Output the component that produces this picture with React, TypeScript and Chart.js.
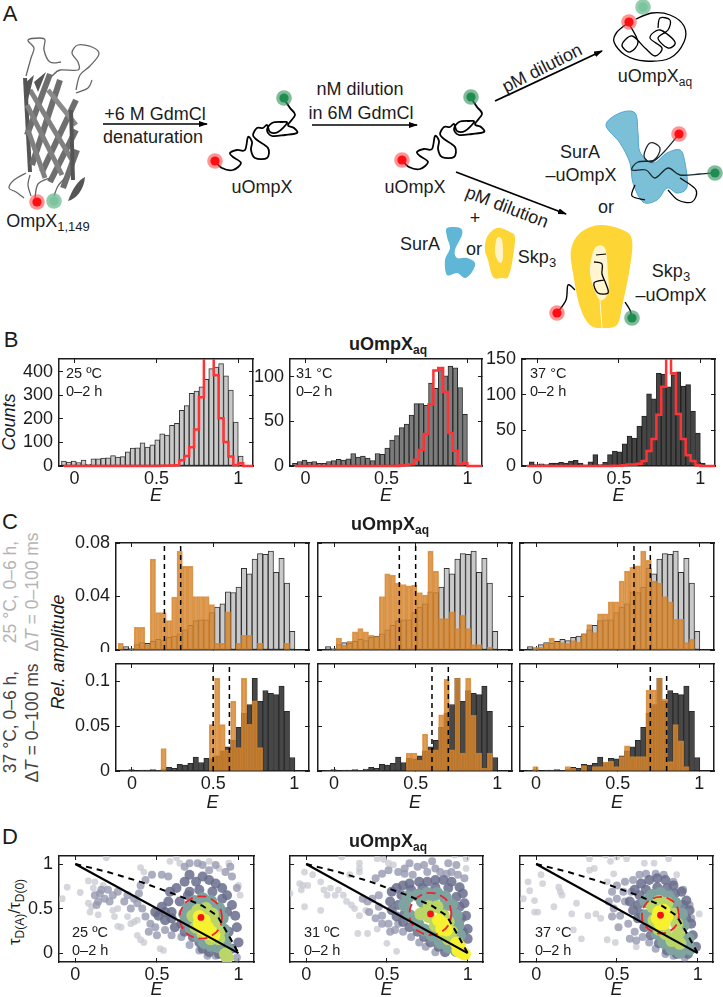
import React, { useEffect, useRef } from 'react';
import { Chart, registerables } from 'chart.js';

Chart.register(...registerables);

// bin centres
const binsB = [-0.065, -0.035, -0.005, 0.025, 0.055, 0.085, 0.115, 0.145, 0.175, 0.205, 0.235, 0.265, 0.295, 0.325, 0.355, 0.385, 0.415, 0.445, 0.475, 0.505, 0.535, 0.565, 0.595, 0.625, 0.655, 0.685, 0.715, 0.745, 0.775, 0.805, 0.835, 0.865, 0.895, 0.925, 0.955, 0.985, 1.015, 1.045, 1.075, 1.105];
const binsC = [-0.069, -0.036, -0.003, 0.03, 0.063, 0.096, 0.129, 0.162, 0.195, 0.228, 0.261, 0.294, 0.327, 0.36, 0.393, 0.426, 0.459, 0.492, 0.525, 0.558, 0.591, 0.624, 0.657, 0.69, 0.723, 0.756, 0.789, 0.822, 0.855, 0.888, 0.921, 0.954, 0.987];

// panel B counts
const counts25 = [21, 17, 21, 15, 25, 7, 30, 30, 34, 35, 44, 38, 40, 60, 76, 77, 98, 80, 90, 111, 137, 132, 173, 181, 237, 257, 309, 319, 337, 369, 414, 421, 435, 383, 323, 187, 42];
const counts31 = [3, 5, 6.5, 4.5, 5, 3, 3, 5, 6, 7.5, 6.5, 8, 14, 10, 11, 9, 6, 14, 13, 20, 29, 34, 43, 47, 57, 70, 70, 68, 93, 87, 108, 101, 112, 110, 88, 58];
const counts37 = [0.5, 6, 2, 3, 2, 4, 4, 5, 4, 7, 8, 4, 1.5, 6, 16, 2, 5, 16, 21, 20, 31, 42, 39, 56, 70, 101, 94, 130, 129, 111, 128, 132, 112, 114, 77, 46, 4];
const fit25 = [0, 0, 0, 0, 0, 0, 0, 0, 0, 0, 0, 0, 0, 0, 0, 0, 0, 0, 0, 0, 1, 1, 2, 3, 24, 42, 80, 155, 292, 470, 470, 386, 203, 102, 40, 4, 12, 0, 0, 0];
const fit31 = [0, 0, 0, 0, 0, 0, 0, 0, 0, 0, 0, 0, 0, 0, 0, 0, 0, 0, 0, 0, 0, 0, 0.5, 1, 2, 7, 18, 36, 69, 107, 110, 83, 37, 17, 2, 3, 0, 0, 0, 0];
const fit37 = [0, 0, 0, 0, 0, 0, 0, 0, 0, 0, 0, 0, 0, 0, 0, 0, 0, 0, 0.5, 0.5, 1, 2, 2, 3, 7, 21, 38, 72, 111, 155, 130, 73, 38, 15, 7, 1, 0, 0, 0, 0];

// panel C relative amplitudes
const grey25 = [0, 0.0025, 0.001, 0.004, 0.0055, 0.005, 0.0065, 0.008, 0.007, 0.0095, 0.0105, 0.012, 0.015, 0.0185, 0.022, 0.0225, 0.0225, 0.028, 0.032, 0.0345, 0.0435, 0.043, 0.047, 0.061, 0.057, 0.068, 0.072, 0.0715, 0.074, 0.058, 0.0685, 0.05, 0.014];
const dark37 = [0, 0.0005, 0.0015, 0, 0.001, 0.001, 0.0015, 0.0005, 0.002, 0.004, 0.003, 0.0075, 0.0065, 0.0085, 0.0155, 0.0095, 0.014, 0.0135, 0.017, 0.0225, 0.027, 0.034, 0.0485, 0.0645, 0.074, 0.103, 0.0775, 0.0895, 0.0865, 0.085, 0.0945, 0.0665, 0.015];
const orange25a = [0.005, 0, 0, 0.017, 0.017, 0.004, 0.068, 0.028, 0.028, 0.022, 0.0395, 0.074, 0.0625, 0.0625, 0.04, 0.04, 0.04, 0.034, 0.005, 0.005, 0.0285, 0, 0.005, 0.011, 0.011, 0, 0.005, 0, 0, 0, 0, 0.005, 0];
const orange25b = [0, 0, 0, 0.009, 0.0035, 0.0065, 0.0135, 0.016, 0.0135, 0.011, 0.01, 0.04, 0.057, 0.056, 0.05, 0.049, 0.048, 0.0485, 0.043, 0.041, 0.074, 0.059, 0.0235, 0.0235, 0.0285, 0.016, 0.026, 0.016, 0.004, 0.004, 0, 0.002, 0];
const orange25c = [0, 0, 0.002, 0.002, 0.005, 0.009, 0.006, 0.0055, 0.005, 0.007, 0.006, 0.012, 0.019, 0.013, 0.027, 0.027, 0.036, 0.036, 0.0515, 0.059, 0.062, 0.063, 0.074, 0.067, 0.0515, 0.05, 0.04, 0.036, 0.023, 0.023, 0.0055, 0.008, 0];
const orange37a = [0, 0, 0, 0, 0, 0, 0, 0, 0.025, 0, 0, 0, 0, 0, 0, 0, 0, 0.0515, 0.103, 0.0515, 0.0235, 0.0775, 0.026, 0.103, 0.052, 0.078, 0.026, 0, 0, 0, 0, 0, 0];
const orange37b = [0, 0, 0, 0, 0, 0, 0, 0, 0, 0, 0, 0, 0, 0, 0, 0, 0.02, 0.02, 0.012, 0.041, 0.0235, 0.0235, 0.0625, 0.102, 0.0235, 0.103, 0.02, 0.103, 0.062, 0.02, 0.003, 0.02, 0];
const orange37c = [0, 0, 0.005, 0, 0, 0, 0, 0, 0.005, 0.003, 0, 0.006, 0, 0.005, 0.005, 0.01, 0.011, 0.005, 0.016, 0.028, 0.016, 0.016, 0.016, 0.09, 0.09, 0.103, 0.08, 0.0105, 0.0515, 0.0335, 0.005, 0, 0];

// panel D, lifetime vs E, one list per density level
const d25 = [
  [[-0.08, 0.61], [-0.05, 0.74], [0.03, 0.68], [0.08, 0.81], [0.12, 0.8], [0.19, 1.07], [0.4, 0.96], [0.42, 0.91], [0.62, 1.07], [0.64, 1.01], [0.58, 1.03], [0.54, 0.03], [0.52, 0.05], [0.42, 0.12], [0.4, 0.15], [0.38, 0.2], [0.1, 0.52], [0.08, 0.56], [0.09, 0.46], [0.14, 0.43], [0.26, 0.3], [0.28, 0.29], [0.38, 0.37], [0.34, 0.33], [0.36, 0.35], [0.32, 0.41], [0.24, 0.41], [0.23, 0.48], [0.26, 0.5], [0.82, 1.03], [0.94, 1.01], [0.88, 0.95], [1.0, 0.76], [1.01, 0.65], [0.11, 0.73], [0.17, 0.76]],
  [[0.12, 0.65], [0.14, 0.58], [0.16, 0.71], [0.2, 0.71], [0.13, 0.54], [0.15, 0.67], [0.23, 0.65], [0.3, 0.58], [0.32, 0.65], [0.36, 0.61], [0.39, 0.67], [0.4, 0.76], [0.43, 0.82], [0.47, 0.88], [0.53, 0.88], [0.57, 0.86], [0.67, 0.97], [0.7, 1.01], [0.75, 1.01], [0.78, 0.99], [0.82, 0.93], [0.86, 0.99], [0.92, 0.91], [0.95, 0.97], [0.96, 0.86], [0.99, 0.73], [0.41, 0.5], [0.43, 0.41], [0.46, 0.33], [0.49, 0.29], [0.45, 0.24], [0.5, 0.2], [0.55, 0.26], [0.59, 0.2], [0.65, 0.18], [0.7, 0.09], [0.76, 0.03], [0.81, -0.03], [0.86, -0.03], [0.99, -0.05], [0.34, 0.5], [0.38, 0.56], [0.26, 0.69], [0.21, 0.58], [0.18, 0.61]],
  [[0.49, 0.46], [0.53, 0.52], [0.57, 0.58], [0.58, 0.69], [0.62, 0.73], [0.67, 0.8], [0.7, 0.88], [0.74, 0.8], [0.78, 0.86], [0.82, 0.82], [0.86, 0.78], [0.9, 0.73], [0.93, 0.65], [0.96, 0.54], [0.98, 0.42], [0.99, 0.29], [1, 0.12], [0.96, 0.05], [0.93, 0.01], [0.88, -0.01], [0.82, 0.01], [0.78, 0.05], [0.76, 0.12], [0.72, 0.18], [0.67, 0.24], [0.61, 0.29], [0.55, 0.37], [0.51, 0.42], [0.59, 0.46], [0.64, 0.58], [0.7, 0.69], [0.76, 0.71], [0.84, 0.69], [0.9, 0.61], [0.93, 0.46], [0.94, 0.24], [0.59, 0.39], [0.55, 0.46], [0.65, 0.33], [0.69, 0.65]],
  [[0.69, 0.5], [0.73, 0.58], [0.78, 0.61], [0.83, 0.58], [0.88, 0.5], [0.9, 0.39], [0.91, 0.26], [0.92, 0.14], [0.93, 0.05], [0.88, 0.07], [0.83, 0.09], [0.79, 0.12], [0.75, 0.2], [0.71, 0.27], [0.68, 0.37], [0.67, 0.44]],
  [[0.72, 0.42], [0.75, 0.48], [0.8, 0.5], [0.84, 0.44], [0.86, 0.35], [0.88, 0.24], [0.88, 0.16], [0.83, 0.16], [0.78, 0.22], [0.74, 0.29], [0.92, -0.01], [0.93, -0.05]],
  [[0.76, 0.33], [0.79, 0.37], [0.81, 0.29], [0.78, 0.27], [0.83, 0.24], [0.85, 0.2], [0.76, 0.41], [0.81, 0.22]],
];
const d31 = [
  [[-0.01, 0.91], [-0.02, 0.76], [-0.04, 0.78], [0.01, 0.76], [0.04, 0.88], [-0.1, 0.67], [-0.01, 0.52], [0.09, 0.48], [0.13, 0.65], [0.15, 0.73], [0.11, 0.71], [0.18, 0.65], [0.2, 0.71], [0.23, 0.65], [0.22, 1.08], [0.33, 1.01], [0.33, 0.95], [0.33, 0.91], [0.27, 0.88], [0.25, 0.58], [0.28, 0.54], [0.3, 0.5], [0.33, 0.42], [0.37, 0.48], [0.44, 0.27], [0.38, 0.22], [0.32, 0.22], [0.5, 0.11], [0.56, 0.02], [0.44, 1.06], [0.48, 1.05], [0.51, 1.01], [0.54, 0.99], [0.92, 1.1], [0.99, 1.06], [0.99, 0.95], [0.09, 0.8], [-0.03, 0.71]],
  [[0.43, 0.84], [0.47, 0.89], [0.51, 0.93], [0.57, 0.91], [0.61, 0.95], [0.64, 1.01], [0.69, 0.97], [0.73, 0.99], [0.78, 1.03], [0.8, 0.95], [0.88, 1.01], [0.93, 0.99], [0.9, 0.91], [0.94, 0.88], [0.35, 0.61], [0.38, 0.58], [0.41, 0.61], [0.45, 0.65], [0.39, 0.46], [0.43, 0.39], [0.47, 0.42], [0.51, 0.33], [0.55, 0.26], [0.6, 0.24], [0.65, 0.18], [0.7, 0.12], [0.74, 0.07], [0.8, 0.01], [0.61, 0.89], [0.66, 0.88], [0.75, 0.91], [0.83, 0.91], [0.87, 0.89], [0.98, 0.84], [0.47, 0.33], [0.52, 0.24], [0.57, 0.33], [0.45, 0.52]],
  [[0.53, 0.69], [0.56, 0.73], [0.6, 0.76], [0.64, 0.78], [0.7, 0.8], [0.75, 0.8], [0.8, 0.82], [0.85, 0.82], [0.9, 0.8], [0.95, 0.74], [0.97, 0.67], [0.98, 0.56], [0.99, 0.42], [1, 0.27], [1, 0.16], [0.52, 0.58], [0.53, 0.48], [0.56, 0.41], [0.6, 0.35], [0.64, 0.29], [0.69, 0.24], [0.73, 0.18], [0.77, 0.12], [0.82, 0.07], [0.86, 0.01], [0.59, 0.65], [0.65, 0.71], [0.72, 0.73], [0.8, 0.74], [0.88, 0.73], [0.93, 0.63], [0.95, 0.52], [0.96, 0.39], [0.97, 0.24], [0.57, 0.54], [0.61, 0.44]],
  [[0.63, 0.63], [0.69, 0.65], [0.75, 0.67], [0.81, 0.67], [0.86, 0.63], [0.9, 0.54], [0.93, 0.42], [0.94, 0.31], [0.95, 0.2], [0.61, 0.54], [0.64, 0.42], [0.69, 0.33], [0.73, 0.26], [0.78, 0.2], [0.83, 0.12], [0.88, 0.07], [0.93, 0.03], [0.72, 0.58], [0.78, 0.58], [0.85, 0.52]],
  [[0.76, 0.52], [0.81, 0.52], [0.85, 0.42], [0.88, 0.35], [0.9, 0.24], [0.76, 0.41], [0.8, 0.31], [0.84, 0.22], [0.88, 0.16], [0.93, 0.12], [0.71, 0.44]],
  [[0.82, 0.37], [0.85, 0.33], [0.84, 0.27], [0.87, 0.26], [0.93, 0.11], [0.95, 0.07], [0.96, 0.01], [0.98, -0.01], [0.94, 0.03]],
];
const d37 = [
  [[-0.08, 0.61], [-0.05, 0.8], [-0.04, 0.7], [-0.01, 0.59], [-0.01, 0.46], [0.01, 0.46], [0.04, 0.78], [0.03, 0.88], [0.11, 0.52], [0.14, 0.74], [0.15, 0.69], [0.16, 0.65], [0.22, 0.44], [0.25, 0.56], [0.23, 0.26], [0.28, 0.16], [0.33, 1.06], [0.33, 0.93], [0.36, 0.95], [0.43, 1.1], [0.46, 1.03], [0.5, 1.08], [0.56, 1.06], [0.67, 1.01], [0.73, 1.01], [0.82, 1.06], [0.87, 0.88], [1.01, 0.44], [0.49, 0.12], [0.62, 0.07], [0.44, 0.15], [0.44, 0.8], [0.48, 0.89], [0.32, 0.42], [0.37, 0.44], [0.4, 0.39]],
  [[0.47, 0.69], [0.5, 0.76], [0.55, 0.8], [0.6, 0.82], [0.64, 0.88], [0.68, 0.89], [0.74, 0.89], [0.79, 0.88], [0.45, 0.58], [0.48, 0.5], [0.47, 0.41], [0.52, 0.42], [0.57, 0.33], [0.51, 0.29], [0.61, 0.24], [0.66, 0.18], [0.7, 0.12], [0.74, 0.05], [0.8, -0.01], [0.85, -0.03], [0.92, -0.05], [0.96, 0.39], [0.95, 0.54], [0.58, 0.16], [0.62, 0.14], [0.59, 0.69], [0.5, 0.61], [0.55, 0.58], [0.54, 0.69], [0.85, 0.8], [0.91, 0.71]],
  [[0.61, 0.71], [0.65, 0.78], [0.7, 0.82], [0.75, 0.84], [0.8, 0.82], [0.85, 0.76], [0.9, 0.69], [0.93, 0.59], [0.95, 0.48], [0.96, 0.33], [0.97, 0.2], [0.99, 0.07], [0.58, 0.58], [0.6, 0.48], [0.63, 0.39], [0.67, 0.29], [0.71, 0.2], [0.76, 0.11], [0.81, 0.03], [0.87, -0.01], [0.94, -0.01], [0.64, 0.65], [0.68, 0.71], [0.75, 0.74], [0.81, 0.73], [0.86, 0.67], [0.91, 0.54], [0.93, 0.39], [0.63, 0.54], [0.65, 0.44]],
  [[0.68, 0.58], [0.72, 0.65], [0.77, 0.67], [0.82, 0.63], [0.86, 0.56], [0.9, 0.44], [0.91, 0.31], [0.94, 0.16], [0.95, 0.05], [0.68, 0.42], [0.71, 0.31], [0.75, 0.22], [0.79, 0.12], [0.84, 0.05], [0.89, 0.01]],
  [[0.72, 0.52], [0.76, 0.58], [0.81, 0.56], [0.85, 0.44], [0.87, 0.33], [0.88, 0.22], [0.89, 0.11], [0.73, 0.37], [0.76, 0.27], [0.8, 0.22], [0.84, 0.14]],
  [[0.76, 0.46], [0.79, 0.48], [0.81, 0.41], [0.79, 0.33], [0.77, 0.33], [0.75, 0.39], [0.78, 0.41]],
];
const densityColors = ['rgba(200,201,210,0.75)', 'rgba(150,153,176,0.8)', 'rgba(104,109,140,0.85)', '#7fa39f', '#bad667', '#f6f230'];
const densityRadius = [3.4, 4, 5, 6.5, 6.5, 6.5];

// model lines in D
const staticX = [0, 1];
const staticY = [1, 0];
const dynX = [0, 0.2, 0.4, 0.64, 0.78, 0.87, 0.93, 1];
const dynY = [1, 0.91, 0.8, 0.64, 0.53, 0.42, 0.23, 0];
const ringX = [0.9, 0.883, 0.835, 0.77, 0.705, 0.657, 0.64, 0.657, 0.705, 0.77, 0.835, 0.883, 0.9];
const ringX37 = [0.885, 0.87, 0.828, 0.77, 0.713, 0.67, 0.655, 0.67, 0.713, 0.77, 0.828, 0.87, 0.885];
const ringY25 = [0.4, 0.519, 0.605, 0.637, 0.605, 0.519, 0.4, 0.281, 0.195, 0.163, 0.195, 0.281, 0.4];
const ringY31 = [0.44, 0.558, 0.644, 0.675, 0.644, 0.558, 0.44, 0.322, 0.236, 0.205, 0.236, 0.322, 0.44];
const ringY37 = [0.425, 0.528, 0.603, 0.63, 0.603, 0.528, 0.425, 0.322, 0.248, 0.22, 0.248, 0.322, 0.425];

const eTicks = [0, 0.5, 1];
const FONT = '"Liberation Sans", Arial, sans-serif';
const INK = '#1c1c1c';
const ORANGE = 'rgba(214,133,45,0.8)';
const RED = '#ff3236';

const PAD_T = 10;
const PAD_R = 8;

const zip = (xs: number[], ys: number[]) => ys.map((y, i) => ({ x: xs[i], y }));

const histo = (bins: number[], ys: number[], fill: string, line: string, order: number) => ({
  type: 'bar',
  data: zip(bins, ys),
  backgroundColor: fill,
  borderColor: line,
  borderWidth: 1,
  borderSkipped: false,
  barPercentage: 1,
  categoryPercentage: 1,
  grouped: false,
  order,
});

const fitLine = (ys: number[]) => ({
  type: 'line',
  data: zip(binsB, ys),
  borderColor: RED,
  borderWidth: 2.5,
  stepped: 'middle',
  pointRadius: 0,
  clip: { left: 0, top: 0, right: 0, bottom: 2 },
  order: 0,
});

const vline = (x: number, top: number) => ({
  type: 'line',
  data: [{ x, y: 0 }, { x, y: top }],
  borderColor: '#000',
  borderWidth: 1.5,
  borderDash: [5, 4],
  pointRadius: 0,
  order: -1,
});

const burstPanel = (pts: number[][][], rx: number[], ry: number[], dot: number[]) => [
  { type: 'line', data: zip(staticX, staticY), borderColor: '#000', borderWidth: 2.2, pointRadius: 0, order: -4 },
  { type: 'line', data: zip(dynX, dynY), borderColor: '#000', borderWidth: 2, borderDash: [6, 5], pointRadius: 0, order: -3 },
  { type: 'line', data: zip(rx, ry), borderColor: '#f0222c', borderWidth: 1.8, borderDash: [9, 5], tension: 0.5, pointRadius: 0, order: -2 },
  { type: 'scatter', data: [{ x: dot[0], y: dot[1] }], backgroundColor: '#f5101c', borderWidth: 0, pointRadius: 3.4, order: -5 },
  ...pts.map((layer, i) => ({
    type: 'scatter',
    data: layer.map(([x, y]) => ({ x, y })),
    backgroundColor: densityColors[i],
    borderWidth: 0,
    pointRadius: densityRadius[i],
    order: 10 - i,
  })),
];

interface PlotProps {
  box: number[]; // l t r b of the frame
  leftW: number;
  botH: number;
  xRange: number[];
  yRange: number[];
  yTicks: number[];
  showX?: boolean;
  showY?: boolean;
  xTitle?: boolean;
  datasets: any[];
}

const noPadding = (s: any) => {
  s.paddingLeft = 0;
  s.paddingRight = 0;
  s.paddingTop = 0;
  s.paddingBottom = 0;
};

const Plot = ({ box, leftW, botH, xRange, yRange, yTicks, showX = true, showY = true, xTitle = true, datasets }: PlotProps) => {
  const ref = useRef<HTMLCanvasElement>(null);
  const [l, t, r, b] = box;

  useEffect(() => {
    if (!ref.current) return;
    const tickFont = { family: FONT, size: 18 };
    const frame = { display: true, color: INK, width: 1.5 };
    const grid = { drawOnChartArea: false, drawTicks: true, tickLength: -4, tickColor: INK, offset: false, lineWidth: 1 };
    const setTicks = (list: number[]) => (s: any) => {
      s.ticks = list.map(value => ({ value }));
    };
    const xAxis = (position: string, labels: boolean, height: number, title: boolean) => ({
      type: 'linear',
      axis: 'x',
      position,
      min: xRange[0],
      max: xRange[1],
      offset: false,
      border: frame,
      grid,
      afterBuildTicks: setTicks(eTicks),
      afterFit: (s: any) => { s.height = height; noPadding(s); },
      title: { display: title, text: 'E', color: INK, padding: 0, font: { family: FONT, size: 18, style: 'italic' } },
      ticks: { display: labels, color: INK, font: tickFont, padding: 6.5, autoSkip: false, maxRotation: 0, callback: (v: any) => String(v) },
    });
    const yAxis = (position: string, labels: boolean, width: number) => ({
      type: 'linear',
      axis: 'y',
      position,
      min: yRange[0],
      max: yRange[1],
      border: frame,
      grid,
      afterBuildTicks: setTicks(yTicks),
      afterFit: (s: any) => { s.width = width; noPadding(s); },
      ticks: { display: labels, color: INK, font: tickFont, padding: 10, autoSkip: false, callback: (v: any) => String(v) },
    });

    const chart = new Chart(ref.current, {
      type: 'bar',
      data: { datasets },
      options: {
        responsive: false,
        animation: false,
        layout: { padding: { top: PAD_T, right: PAD_R, left: 0, bottom: 0 } },
        plugins: { legend: { display: false }, tooltip: { enabled: false } },
        scales: {
          x: xAxis('bottom', showX, botH, xTitle),
          x2: xAxis('top', false, 0, false),
          y: yAxis('left', showY, leftW),
          y2: yAxis('right', false, 0),
        },
      },
    } as any);

    return () => chart.destroy();
  }, []);

  return (
    <canvas
      ref={ref}
      width={leftW + (r - l) + PAD_R}
      height={PAD_T + (b - t) + botH}
      style={{ position: 'absolute', left: l - leftW, top: t - PAD_T }}
    />
  );
};

// text placed by its centre
const T = ({ x, y, size = 18, rot = 0, color = INK, bold, italic, children }: any) => (
  <div
    style={{
      position: 'absolute',
      left: x,
      top: y,
      transform: `translate(-50%,-50%) rotate(${rot}deg)`,
      fontSize: size,
      lineHeight: 1,
      whiteSpace: 'nowrap',
      color,
      fontWeight: bold ? 'bold' : 'normal',
      fontStyle: italic ? 'italic' : 'normal',
    }}
  >
    {children}
  </div>
);

const Sub = ({ children, size = 12 }: any) => (
  <span style={{ fontSize: size, position: 'relative', top: 4 }}>{children}</span>
);

// smooth path through hand placed points of the cartoon
const smooth = (p: number[][], closed = false) => {
  const n = p.length;
  const at = (i: number) => (closed ? p[(i + n) % n] : p[Math.max(0, Math.min(n - 1, i))]);
  let d = `M${p[0][0]},${p[0][1]}`;
  for (let i = 0; i < (closed ? n : n - 1); i++) {
    const [a, b, c, e] = [at(i - 1), at(i), at(i + 1), at(i + 2)];
    d += ` C${b[0] + (c[0] - a[0]) / 6},${b[1] + (c[1] - a[1]) / 6} ${c[0] - (e[0] - b[0]) / 6},${c[1] - (e[1] - b[1]) / 6} ${c[0]},${c[1]}`;
  }
  return d + (closed ? 'Z' : '');
};

const Dye = ({ x, y, kind }: { x: number; y: number; kind: string }) => {
  const soft = kind === 'red' ? 'rgba(255,60,60,0.55)' : kind === 'green' ? 'rgba(60,150,100,0.65)' : 'rgba(100,185,140,0.7)';
  const core = kind === 'red' ? '#ff0d12' : kind === 'green' ? '#1f8c50' : 'rgba(100,185,140,0.5)';
  return (
    <g>
      <circle cx={x} cy={y} r={7.8} fill={soft} />
      <circle cx={x} cy={y} r={4.6} fill={core} />
    </g>
  );
};

const coil = [[215, 161], [222, 168], [233, 170], [241, 163], [233, 157], [230, 153], [237, 150], [245, 150], [248, 137], [252, 142], [251, 150], [255, 158], [267, 158], [268, 148], [257, 140], [253, 135], [257, 128], [263, 128], [267, 125], [270, 132], [278, 132], [287, 123], [282, 122], [272, 123], [267, 130], [272, 136], [285, 135], [297, 133], [294, 128], [288, 125], [295, 115], [290, 108], [284, 99]];

const Cartoon = () => (
  <svg width={723} height={335} style={{ position: 'absolute', left: 0, top: 0 }}>
    <defs>
      <marker id="head" markerWidth="9" markerHeight="7" refX="8" refY="3" orient="auto" markerUnits="userSpaceOnUse">
        <path d="M0,0 L9,3 L0,6 Z" fill="#000" />
      </marker>
    </defs>
    {/* barrel */}
    <g stroke="#6e6e6e" strokeWidth={6} fill="none">
      <path d="M25,78 L30,172" strokeWidth={4} stroke="#555" />
      <path d="M27,135 L50,74" />
      <path d="M32,165 L60,80" />
      <path d="M42,172 L76,100" />
      <path d="M50,182 L76,130" />
      <path d="M63,188 L77,150" />
      <path d="M27,105 L62,175" strokeWidth={5} stroke="#808080" />
      <path d="M30,90 L72,160" strokeWidth={5} stroke="#808080" />
      <path d="M48,90 L76,125" strokeWidth={5} stroke="#8a8a8a" />
      <path d="M28,130 L45,178" strokeWidth={5} stroke="#808080" />
      <path d="M71,110 L73,180" strokeWidth={4} stroke="#555" />
    </g>
    <path d="M24,84 L34,75 L28,100 Z M34,82 L46,72 L38,92 Z" fill="#555" />
    <g stroke="#666" strokeWidth={1.3} fill="none">
      <path d={smooth([[26, 76], [31, 58], [34, 48], [28, 40], [40, 38], [45, 40], [44, 50], [50, 62], [61, 62]])} />
      <path d={smooth([[52, 76], [60, 70], [78, 70], [78, 62], [72, 53], [78, 45], [92, 47], [99, 54], [90, 66], [80, 75], [76, 90]])} />
      <path d={smooth([[76, 93], [88, 88], [92, 80]])} />
      <path d={smooth([[26, 173], [14, 180], [9, 188], [16, 192], [24, 198]])} />
      <path d={smooth([[30, 175], [28, 185], [31, 196]])} />
      <path d={smooth([[50, 178], [38, 184], [35, 198]])} />
      <path d={smooth([[65, 178], [58, 186], [54, 196]])} />
    </g>
    <path d="M68,201 C72,190 78,180 85,177 C84,190 76,199 68,201 Z" fill="#555" />
    <Dye x={37} y={202} kind="red" />
    <Dye x={54} y={201} kind="pale" />

    <line x1={103} y1={124} x2={207} y2={124} stroke="#000" strokeWidth={1.5} markerEnd="url(#head)" />
    <line x1={312} y1={125} x2={417} y2={125} stroke="#000" strokeWidth={1.5} markerEnd="url(#head)" />
    <line x1={495} y1={101} x2={602} y2={51} stroke="#000" strokeWidth={1.8} markerEnd="url(#head)" />
    <line x1={456} y1={172} x2={566} y2={214} stroke="#000" strokeWidth={1.8} markerEnd="url(#head)" />

    <path d={smooth(coil)} fill="none" stroke="#000" strokeWidth={1.8} />
    <Dye x={215} y={161} kind="red" />
    <Dye x={284} y={98} kind="green" />
    <g transform="translate(187,-1)">
      <path d={smooth(coil)} fill="none" stroke="#000" strokeWidth={1.8} />
      <Dye x={215} y={161} kind="red" />
      <Dye x={284} y={98} kind="green" />
    </g>

    {/* collapsed chain */}
    <path d={smooth([[629, 22], [617, 32], [614, 42], [625, 55], [645, 61], [670, 58], [684, 42], [684, 26], [670, 15], [652, 13], [636, 19]], false)} fill="none" stroke="#000" strokeWidth={1.3} />
    <path d={smooth([[629, 24], [638, 42], [630, 52], [622, 45], [632, 36], [645, 48], [655, 56], [662, 48], [650, 38], [660, 30], [675, 42], [668, 48], [658, 38], [668, 30], [670, 20], [660, 18], [658, 28]])} fill="none" stroke="#000" strokeWidth={1.3} />
    <Dye x={629} y={22} kind="red" />
    <Dye x={643} y={7} kind="pale" />

    {/* SurA complex */}
    <path d={smooth([[606, 125], [620, 113], [635, 113], [638, 133], [640, 152], [653, 163], [667, 153], [680, 150], [685, 163], [687, 187], [677, 193], [667, 188], [657, 200], [643, 202], [633, 183], [630, 163], [620, 143]], true)} fill="#7cc0d8" stroke="#4ea5cf" strokeWidth={1} />
    <path d={smooth([[679, 134], [664, 152], [652, 162], [644, 156], [650, 143], [660, 148], [654, 160], [638, 162], [632, 170], [646, 170], [655, 178], [668, 168], [680, 175], [700, 174], [715, 173]])} fill="none" stroke="#1a2a30" strokeWidth={1.3} />
    <path d={smooth([[635, 185], [632, 196], [645, 200]])} fill="none" stroke="#000" strokeWidth={1.3} />
    <path d={smooth([[680, 178], [696, 190], [692, 202], [678, 200], [668, 190]])} fill="none" stroke="#000" strokeWidth={1.3} />
    <Dye x={679} y={134} kind="red" />
    <Dye x={715} y={173} kind="green" />

    {/* free SurA, Skp */}
    <path d={smooth([[447, 228], [460, 228], [462, 235], [455, 250], [457, 258], [467, 258], [475, 263], [472, 272], [465, 278], [457, 273], [447, 275], [445, 260], [450, 248], [447, 237]], true)} fill="#5fb6d6" />
    <path d={smooth([[487, 237], [497, 228], [510, 232], [515, 238], [512, 263], [508, 277], [502, 278], [493, 277], [488, 260], [485, 250]], true)} fill="#fdd535" />
    <path d={smooth([[497, 238], [502, 240], [503, 257], [500, 263], [495, 253]], true)} fill="#fff4c8" />

    {/* Skp complex */}
    <path d={smooth([[557, 313], [566, 300], [568, 285], [575, 290]])} fill="none" stroke="#000" strokeWidth={1.4} />
    <path d={smooth([[625, 302], [630, 310], [632, 318]])} fill="none" stroke="#000" strokeWidth={1.4} />
    <path d={smooth([[571, 250], [580, 233], [600, 225], [623, 230], [632, 240], [630, 267], [622, 307], [617, 325], [603, 328], [590, 325], [580, 307], [573, 273]], true)} fill="#fdd535" />
    <path d={smooth([[595, 248], [605, 248], [608, 273], [608, 293], [600, 300], [592, 283], [590, 267]], true)} fill="#fff5d0" />
    <path d="M600,300 L602,328" stroke="#fff8dc" strokeWidth={1} />
    <path d={smooth([[596, 255], [606, 254]])} fill="none" stroke="#000" strokeWidth={1.2} />
    <path d={smooth([[594, 262], [602, 264], [602, 274], [606, 284], [608, 293], [598, 293], [594, 283], [604, 280]])} fill="none" stroke="#000" strokeWidth={1.3} />
    <Dye x={557} y={313} kind="red" />
    <Dye x={632} y={318} kind="green" />
  </svg>
);

const BOX_B = [[59, 359, 253, 466], [290, 359, 482, 466], [522, 359, 715, 466]];
const BOX_CT = [[116, 543, 309, 650], [318, 543, 512, 650], [520, 543, 714, 650]];
const BOX_CB = [[116, 664, 309, 771], [318, 664, 512, 771], [520, 664, 714, 771]];
const BOX_D = [[59, 856, 254, 962], [290, 856, 483, 962], [520, 856, 713, 962]];

const X_B = [-0.095, 1.09];
const X_C = [-0.098, 1.09];
const X_D = [-0.1, 1.095];
const Y_D = [-0.1, 1.09];

const Both = ({ x, y, temp }: any) => (
  <>
    <div style={{ position: 'absolute', left: x, top: y - 7, fontSize: 14.5, lineHeight: 1, color: INK, whiteSpace: 'nowrap' }}>{temp}</div>
    <div style={{ position: 'absolute', left: x, top: y + 11, fontSize: 14.5, lineHeight: 1, color: INK, whiteSpace: 'nowrap' }}>0–2 h</div>
  </>
);

const Title = ({ x, y }: any) => (
  <T x={x} y={y} bold>uOmpX<Sub size={12}>aq</Sub></T>
);

export default function App() {
  return (
    <div style={{ position: 'relative', width: 723, height: 997, fontFamily: FONT, overflow: 'hidden' }}>
      <style>{'body{margin:0}'}</style>

      <Cartoon />
      <T x={10} y={14} size={22}>A</T>
      <T x={48} y={221}>OmpX<Sub size={13}>1,149</Sub></T>
      <T x={155} y={114}>+6 M GdmCl</T>
      <T x={153} y={137}>denaturation</T>
      <T x={262} y={187}>uOmpX</T>
      <T x={360} y={89}>nM dilution</T>
      <T x={361} y={113}>in 6M GdmCl</T>
      <T x={415} y={187}>uOmpX</T>
      <T x={542} y={68} rot={-27}>pM dilution</T>
      <T x={655} y={76}>uOmpX<Sub size={12}>aq</Sub></T>
      <T x={580} y={152}>SurA</T>
      <T x={581} y={175}>–uOmpX</T>
      <T x={606} y={207}>or</T>
      <T x={507} y={207} rot={21}>pM dilution</T>
      <T x={475} y={218}>+</T>
      <T x={420} y={244}>SurA</T>
      <T x={474} y={249}>or</T>
      <T x={537} y={257}>Skp<Sub size={13}>3</Sub></T>
      <T x={671} y={271}>Skp<Sub size={13}>3</Sub></T>
      <T x={671} y={295}>–uOmpX</T>

      <T x={11} y={340} size={22}>B</T>
      <Title x={388} y={344} />
      <T x={9} y={422} italic rot={-90}>Counts</T>
      <Plot box={BOX_B[0]} leftW={50} botH={41} xRange={X_B} yRange={[0, 455]} yTicks={[0, 100, 200, 300, 400]} datasets={[histo(binsB, counts25, '#c9c9c9', '#333', 2), fitLine(fit25)]} />
      <Plot box={BOX_B[1]} leftW={50} botH={41} xRange={X_B} yRange={[0, 120]} yTicks={[0, 50, 100]} datasets={[histo(binsB, counts31, '#7c7c7c', '#2a2a2a', 2), fitLine(fit31)]} />
      <Plot box={BOX_B[2]} leftW={50} botH={41} xRange={X_B} yRange={[0, 150]} yTicks={[0, 50, 100, 150]} datasets={[histo(binsB, counts37, '#454545', '#222', 2), fitLine(fit37)]} />
      <Both x={66} y={373} temp="25 ºC" />
      <Both x={296} y={373} temp="31 °C" />
      <Both x={530} y={373} temp="37 °C" />

      <T x={10} y={522} size={22}>C</T>
      <Title x={390} y={524} />
      <T x={11} y={592} size={17.5} rot={-90} color="#b4b4b4">25 °C, 0–6 h,</T>
      <T x={33} y={592} size={17.5} rot={-90} color="#b4b4b4">Δ<i>T</i> = 0–100 ms</T>
      <T x={11} y={722} size={17.5} rot={-90} color="#444">37 °C, 0–6 h,</T>
      <T x={33} y={723} size={17.5} rot={-90} color="#444">Δ<i>T</i> = 0–100 ms</T>
      <T x={58} y={652} italic rot={-90}>Rel. amplitude</T>

      <Plot box={BOX_CT[0]} leftW={50} botH={2} showX={false} xTitle={false} xRange={X_C} yRange={[0, 0.08]} yTicks={[0, 0.04, 0.08]} datasets={[histo(binsC, grey25, '#c9c9c9', '#333', 2), histo(binsC, orange25a, ORANGE, ORANGE, 1), vline(0.2, 0.08), vline(0.3, 0.08)]} />
      <Plot box={BOX_CT[1]} leftW={8} botH={2} showX={false} showY={false} xTitle={false} xRange={X_C} yRange={[0, 0.08]} yTicks={[0, 0.04, 0.08]} datasets={[histo(binsC, grey25, '#c9c9c9', '#333', 2), histo(binsC, orange25b, ORANGE, ORANGE, 1), vline(0.4, 0.08), vline(0.5, 0.08)]} />
      <Plot box={BOX_CT[2]} leftW={8} botH={2} showX={false} showY={false} xTitle={false} xRange={X_C} yRange={[0, 0.08]} yTicks={[0, 0.04, 0.08]} datasets={[histo(binsC, grey25, '#c9c9c9', '#333', 2), histo(binsC, orange25c, ORANGE, ORANGE, 1), vline(0.6, 0.08), vline(0.7, 0.08)]} />
      <Plot box={BOX_CB[0]} leftW={50} botH={43} xRange={X_C} yRange={[0, 0.119]} yTicks={[0, 0.05, 0.1]} datasets={[histo(binsC, dark37, '#474747', '#2a2a2a', 2), histo(binsC, orange37a, ORANGE, ORANGE, 1), vline(0.5, 0.119), vline(0.6, 0.119)]} />
      <Plot box={BOX_CB[1]} leftW={8} botH={43} showY={false} xRange={X_C} yRange={[0, 0.119]} yTicks={[0, 0.05, 0.1]} datasets={[histo(binsC, dark37, '#474747', '#2a2a2a', 2), histo(binsC, orange37b, ORANGE, ORANGE, 1), vline(0.6, 0.119), vline(0.7, 0.119)]} />
      <Plot box={BOX_CB[2]} leftW={8} botH={43} showY={false} xRange={X_C} yRange={[0, 0.119]} yTicks={[0, 0.05, 0.1]} datasets={[histo(binsC, dark37, '#474747', '#2a2a2a', 2), histo(binsC, orange37c, ORANGE, ORANGE, 1), vline(0.7, 0.119), vline(0.8, 0.11)]} />

      <T x={10} y={837} size={22}>D</T>
      <Title x={388} y={841} />
      <T x={14} y={912} size={17} rot={-90}>τ<Sub size={12}>D(A)</Sub>/τ<Sub size={12}>D(0)</Sub></T>
      <Plot box={BOX_D[0]} leftW={50} botH={39} xRange={X_D} yRange={Y_D} yTicks={eTicks} datasets={burstPanel(d25, ringX, ringY25, [0.77, 0.4])} />
      <Plot box={BOX_D[1]} leftW={30} botH={39} showY={false} xRange={X_D} yRange={Y_D} yTicks={eTicks} datasets={burstPanel(d31, ringX, ringY31, [0.77, 0.44])} />
      <Plot box={BOX_D[2]} leftW={30} botH={39} showY={false} xRange={X_D} yRange={Y_D} yTicks={eTicks} datasets={burstPanel(d37, ringX37, ringY37, [0.77, 0.425])} />
      <Both x={72} y={932} temp="25 ºC" />
      <Both x={304} y={932} temp="31 ºC" />
      <Both x={535} y={932} temp="37 °C" />
    </div>
  );
}
